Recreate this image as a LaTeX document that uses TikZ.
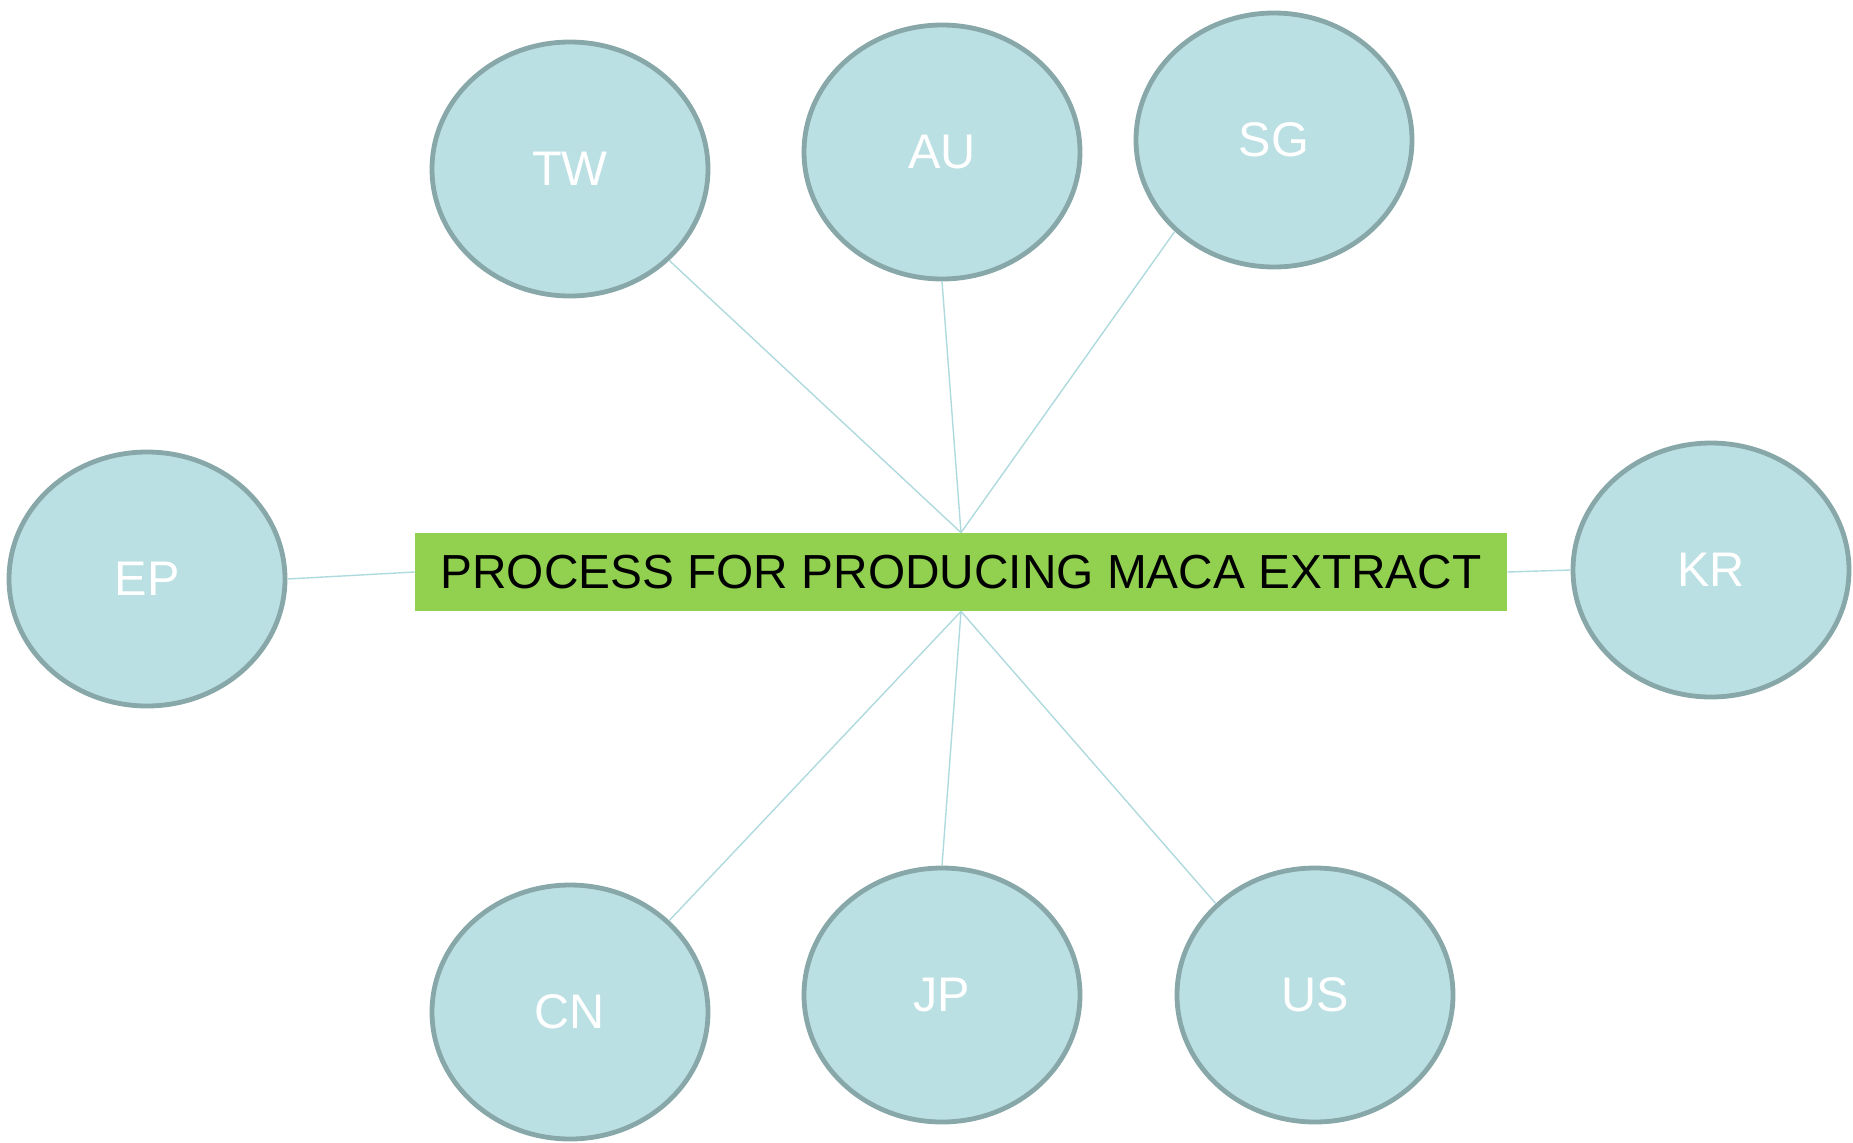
\documentclass[tikz,border=0pt]{standalone}
\usepackage{fontspec}
\setmainfont{Liberation Sans}
\usetikzlibrary{shapes.geometric}

\definecolor{ovalfill}{HTML}{BBE0E3}
\definecolor{ovaldraw}{HTML}{87A7A9}
\definecolor{titlefill}{HTML}{92D050}
\definecolor{linkcolor}{HTML}{AEDADE}

\begin{document}
\begin{tikzpicture}
[every node/.style={inner sep=0pt},
 country/.style={ellipse, minimum width=138pt, minimum height=127pt, fill=ovalfill, line width=2.4pt, draw=ovaldraw, font=\fontsize{24.3pt}{29pt}\selectfont, text=white},
 link/.style={line width=0.7pt, color=linkcolor}]
\useasboundingbox (0pt, 0pt) rectangle (926.5pt, -571pt);
\node (title) [rectangle, minimum width=546pt, minimum height=39pt, fill=titlefill, font=\fontsize{23.9pt}{29pt}\selectfont] at (480.5pt, -286.0pt) {PROCESS FOR PRODUCING MACA EXTRACT};
\node (tw) [country] at (285.0pt, -84.5pt) {TW};
\node (au) [country] at (471.0pt, -76.0pt) {AU};
\node (sg) [country] at (637.0pt, -70.0pt) {SG};
\node (ep) [country] at (73.5pt, -289.5pt) {EP};
\node (kr) [country] at (855.5pt, -285.0pt) {KR};
\node (cn) [country] at (285.0pt, -506.0pt) {CN};
\node (jp) [country] at (471.0pt, -497.5pt) {JP};
\node (us) [country] at (657.5pt, -497.5pt) {US};
\draw [link] (title.north) to (tw.south east);
\draw [link] (title.north) to (au.south);
\draw [link] (title.north) to (sg.south west);
\draw [link] (title.west) to (ep.east);
\draw [link] (title.east) to (kr.west);
\draw [link] (title.south) to (cn.north east);
\draw [link] (title.south) to (jp.north);
\draw [link] (title.south) to (us.north west);

\end{tikzpicture}
\end{document}
